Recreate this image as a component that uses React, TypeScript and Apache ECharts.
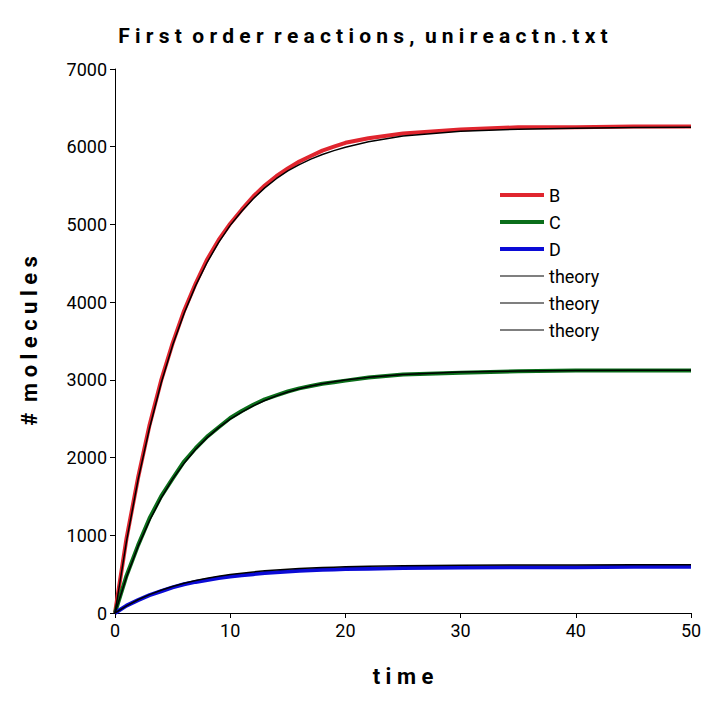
import { useEffect, useRef } from "react";
import * as echarts from "echarts";

const times = [0, 1, 2, 3, 4, 5, 6, 7, 8, 9, 10, 11, 12, 13, 14, 15, 16, 17, 18, 19, 20, 22, 25, 30, 35, 40, 45, 50];

const simB = [0, 960, 1740, 2420, 2990, 3470, 3890, 4240, 4550, 4800, 5010, 5190, 5360, 5500, 5620, 5720, 5810, 5880, 5950, 6000, 6050, 6110, 6170, 6220, 6250, 6250, 6260, 6260];
const simC = [0, 480, 870, 1220, 1500, 1730, 1950, 2120, 2270, 2390, 2510, 2600, 2680, 2750, 2800, 2850, 2890, 2920, 2950, 2970, 2990, 3030, 3070, 3090, 3110, 3120, 3120, 3120];
const simD = [0, 95, 165, 230, 280, 330, 370, 400, 425, 450, 470, 485, 500, 515, 525, 535, 545, 550, 555, 560, 565, 570, 580, 585, 590, 590, 595, 595];

const thB = [0, 925, 1713, 2381, 2956, 3444, 3856, 4213, 4513, 4769, 4988, 5170, 5331, 5470, 5588, 5688, 5769, 5840, 5900, 5950, 5994, 6063, 6138, 6200, 6225, 6238, 6246, 6250];
const thC = [0, 463, 857, 1190, 1478, 1722, 1928, 2107, 2257, 2385, 2494, 2585, 2666, 2735, 2794, 2844, 2885, 2920, 2950, 2975, 2997, 3032, 3069, 3100, 3113, 3119, 3123, 3125];
const thD = [0, 92, 170, 236, 293, 342, 383, 418, 448, 473, 495, 513, 529, 543, 554, 564, 572, 579, 585, 590, 595, 601, 609, 615, 617, 619, 620, 620];

const pair = (ys: number[]) => times.map((t, i) => [t, ys[i]]);

export default function App() {
  const ref = useRef<HTMLDivElement>(null);

  useEffect(() => {
    if (!ref.current) return;
    const ch = echarts.init(ref.current, null, { renderer: "svg" });
    const font = "Roboto";
    const line = (name: string, data: number[], color: string, width: number) => ({
      name, type: "line", data: pair(data), symbol: "none",
      lineStyle: { color, width }, itemStyle: { color },
    });
    const thick = "path://M0,5 L44,5 L44,9 L0,9 Z";
    const thin = "path://M0,6.5 L44,6.5 L44,7.5 L0,7.5 Z";
    ch.setOption({
      animation: false,
      textStyle: { fontFamily: font },
      title: {
        text: "F i r s t  o r d e r  r e a c t i o n s ,  u n i r e a c t n . t x t", left: 350, top: 12, textAlign: "center",
        textStyle: { fontSize: 21, fontWeight: "bold", color: "#000", fontFamily: font },
      },
      grid: { left: 107, right: 20, top: 61, bottom: 81 },
      legend: {
        orient: "vertical", left: 487, top: 173, itemGap: 9, itemWidth: 44, itemHeight: 14,
        textStyle: { fontSize: 18, color: "#000", fontFamily: font },
        data: [
          { name: "B", icon: thick }, { name: "C", icon: thick }, { name: "D", icon: thick },
          { name: "theory", icon: thin }, { name: "theory ", icon: thin }, { name: "theory  ", icon: thin },
        ],
        formatter: (n: string) => n.trim(),
      },
      xAxis: {
        type: "value", min: 0, max: 50, interval: 10,
        name: "t i m e", nameLocation: "middle", nameGap: 52,
        nameTextStyle: { fontSize: 22, fontWeight: "bold", color: "#000" },
        axisLine: { lineStyle: { color: "#000" } },
        axisTick: { lineStyle: { color: "#000" } },
        axisLabel: { fontSize: 18, color: "#000" },
        splitLine: { show: false },
      },
      yAxis: {
        type: "value", min: 0, max: 7000, interval: 1000,
        name: "#  m o l e c u l e s", nameLocation: "middle", nameGap: 75,
        nameTextStyle: { fontSize: 22, fontWeight: "bold", color: "#000" },
        axisLine: { show: true, lineStyle: { color: "#000" } },
        axisTick: { show: true, lineStyle: { color: "#000" } },
        axisLabel: { fontSize: 18, color: "#000", formatter: (v: number) => String(v) },
        splitLine: { show: false },
      },
      series: [
        line("B", simB, "#e0252e", 4),
        line("C", simC, "#0a6e1a", 4),
        line("D", simD, "#0b0bd6", 4),
        line("theory", thB, "#000", 1.5),
        line("theory ", thC, "#000", 1.5),
        line("theory  ", thD, "#000", 1.5),
      ],
    });
    return () => ch.dispose();
  }, []);

  return <div ref={ref} style={{ width: 703, height: 686 }} />;
}
